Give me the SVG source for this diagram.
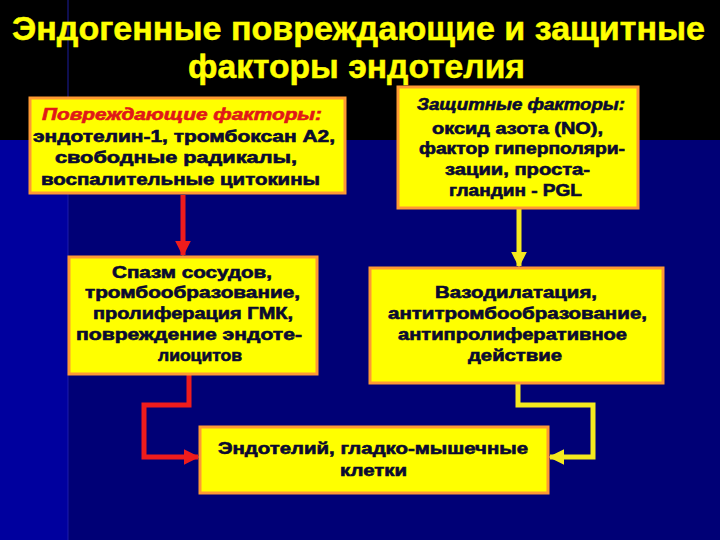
<svg xmlns="http://www.w3.org/2000/svg" width="720" height="540" viewBox="0 0 720 540">
<defs>
<marker id="ar" viewBox="0 0 10 10" refX="9" refY="5" markerWidth="3.2" markerHeight="3.2" orient="auto" markerUnits="strokeWidth">
<path d="M0,0 L10,5 L0,10 z" fill="#ee1c1c"/>
</marker>
<marker id="ay" viewBox="0 0 10 10" refX="9" refY="5" markerWidth="3.2" markerHeight="3.2" orient="auto" markerUnits="strokeWidth">
<path d="M0,0 L10,5 L0,10 z" fill="#f5ea1e"/>
</marker>
</defs>
<style>
.box{fill:#ffff00;stroke:#ff9933;stroke-width:3}
.t{font-family:"Liberation Sans",Arial,sans-serif;font-weight:bold;font-size:16px;fill:#0a0a30;stroke:#0a0a30;stroke-width:0.6;text-anchor:start}
.ti{font-family:"Liberation Sans",Arial,sans-serif;font-weight:bold;font-style:italic;font-size:16px;stroke-width:0.6;text-anchor:start}
.title{font-family:"Liberation Sans",Arial,sans-serif;font-weight:bold;font-size:34px;fill:#ffff00;stroke:#ffff00;stroke-width:0.5}
.red{fill:none;stroke:#ee1c1c;stroke-width:5}
.yel{fill:none;stroke:#f5ea1e;stroke-width:5}
</style>
<rect x="0" y="0" width="720" height="540" fill="#000076"/>
<rect x="0" y="140" width="68" height="400" fill="#00009e"/>
<rect x="0" y="0" width="720" height="140" fill="#000000"/>
<line x1="68" y1="0" x2="68" y2="540" stroke="#2020b0" stroke-width="1.5" opacity="0.6"/>

<g id="title">
<text class="title" x="12" y="40" textLength="693" lengthAdjust="spacingAndGlyphs">Эндогенные повреждающие и защитные</text>
<text class="title" x="188" y="78" textLength="337" lengthAdjust="spacingAndGlyphs">факторы эндотелия</text>
</g>

<g id="connectors">
<path class="red" d="M183,195 V255" marker-end="url(#ar)"/>
<path class="yel" d="M519,208 V266" marker-end="url(#ay)"/>
<path class="red" d="M189,374 V405 H144 V457 H198" marker-end="url(#ar)"/>
<path class="yel" d="M518,383 V405 H593 V457 H550" marker-end="url(#ay)"/>
</g>

<g id="damaging">
<rect class="box" x="30" y="98" width="315" height="95"/>
<text class="ti" x="42" y="120" fill="#e01818" stroke="#e01818" textLength="280" lengthAdjust="spacingAndGlyphs">Повреждающие факторы:</text>
<text class="t" x="33" y="142" textLength="302" lengthAdjust="spacingAndGlyphs">эндотелин-1, тромбоксан А2,</text>
<text class="t" x="55" y="163" textLength="242" lengthAdjust="spacingAndGlyphs">свободные радикалы,</text>
<text class="t" x="41" y="185" textLength="279" lengthAdjust="spacingAndGlyphs">воспалительные цитокины</text>
</g>

<g id="protective">
<rect class="box" x="398" y="87" width="240" height="121"/>
<text class="ti" x="417" y="110" fill="#0a0a30" stroke="#0a0a30" textLength="208" lengthAdjust="spacingAndGlyphs">Защитные факторы:</text>
<text class="t" x="432" y="134" textLength="171" lengthAdjust="spacingAndGlyphs">оксид азота (NO),</text>
<text class="t" x="419" y="154" textLength="206" lengthAdjust="spacingAndGlyphs">фактор гиперполяри-</text>
<text class="t" x="445" y="175" textLength="145" lengthAdjust="spacingAndGlyphs">зации, проста-</text>
<text class="t" x="449" y="196" textLength="133" lengthAdjust="spacingAndGlyphs">гландин - PGL</text>
</g>

<g id="effects-damage">
<rect class="box" x="69" y="257" width="248" height="117"/>
<text class="t" x="112" y="278" textLength="160" lengthAdjust="spacingAndGlyphs">Спазм сосудов,</text>
<text class="t" x="85" y="298" textLength="215" lengthAdjust="spacingAndGlyphs">тромбообразование,</text>
<text class="t" x="93" y="319" textLength="200" lengthAdjust="spacingAndGlyphs">пролиферация ГМК,</text>
<text class="t" x="76" y="340" textLength="226" lengthAdjust="spacingAndGlyphs">повреждение эндоте-</text>
<text class="t" x="158" y="361" textLength="84" lengthAdjust="spacingAndGlyphs">лиоцитов</text>
</g>

<g id="effects-protect">
<rect class="box" x="370" y="268" width="293" height="115"/>
<text class="t" x="435" y="298" textLength="162" lengthAdjust="spacingAndGlyphs">Вазодилатация,</text>
<text class="t" x="388" y="319" textLength="259" lengthAdjust="spacingAndGlyphs">антитромбообразование,</text>
<text class="t" x="398" y="340" textLength="229" lengthAdjust="spacingAndGlyphs">антипролиферативное</text>
<text class="t" x="468" y="361" textLength="94" lengthAdjust="spacingAndGlyphs">действие</text>
</g>

<g id="target">
<rect class="box" x="200" y="427" width="348" height="66"/>
<text class="t" x="218" y="454" textLength="310" lengthAdjust="spacingAndGlyphs">Эндотелий, гладко-мышечные</text>
<text class="t" x="340" y="476" textLength="67" lengthAdjust="spacingAndGlyphs">клетки</text>
</g>
</svg>
